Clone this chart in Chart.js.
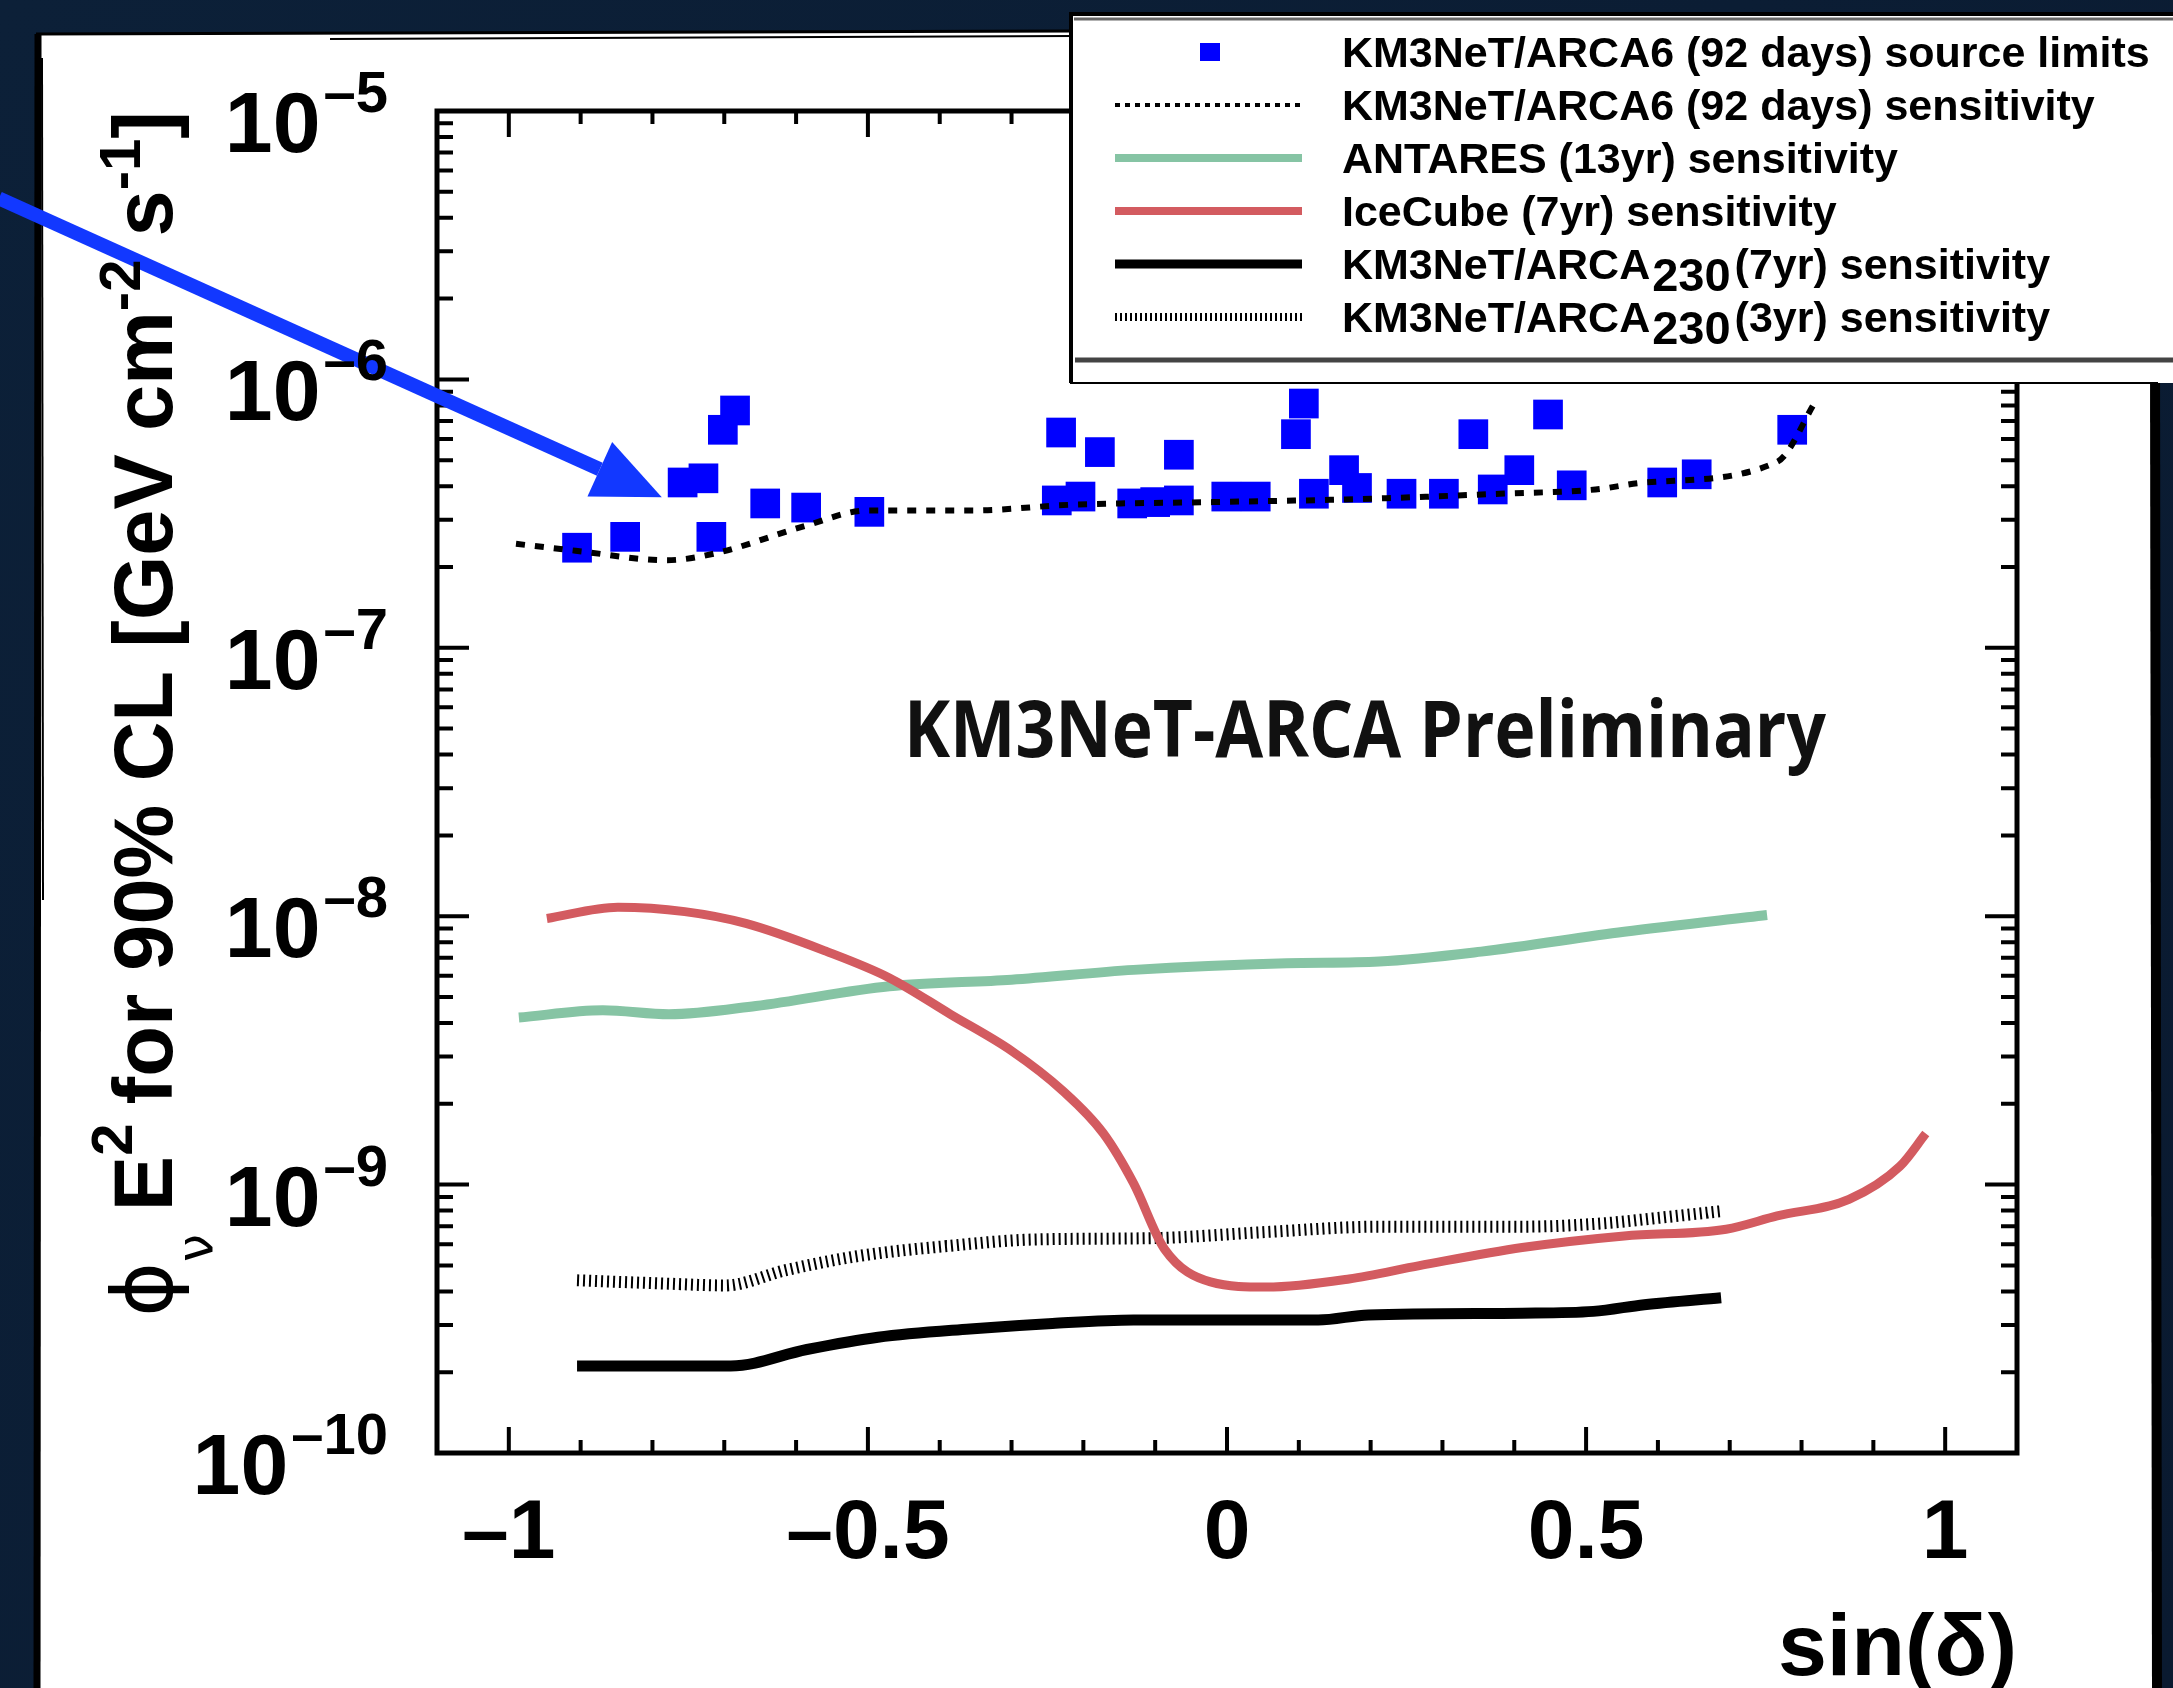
<!DOCTYPE html>
<html>
<head>
<meta charset="utf-8">
<title>KM3NeT/ARCA point source limits</title>
<script src="https://cdn.jsdelivr.net/npm/chart.js@4.4.1/dist/chart.umd.min.js"></script>
<style>
  html, body { margin: 0; padding: 0; background: #0b1c33; overflow: hidden; }
  canvas { display: block; }
</style>
</head>
<body>
<canvas id="limitsChart" width="2173" height="1688"></canvas>
<script>
// axis ticks
const xTicks = [-1, -0.5, 0, 0.5, 1];
const yDecades = [-10, -9, -8, -7, -6, -5];

// KM3NeT/ARCA6 (92 days) source limits
const srcSinDec = [-0.905, -0.838, -0.758, -0.729, -0.718, -0.702, -0.685, -0.643, -0.586, -0.498,
                   -0.231, -0.237, -0.204, -0.177, -0.132, -0.100, -0.067, -0.067, -0.001, 0.040,
                   0.096, 0.107, 0.121, 0.163, 0.181, 0.243, 0.302, 0.343, 0.370, 0.407,
                   0.447, 0.480, 0.606, 0.654, 0.787];
const srcLimit = [2.36e-7, 2.59e-7, 4.13e-7, 4.28e-7, 2.59e-7, 6.49e-7, 7.66e-7, 3.45e-7, 3.33e-7, 3.21e-7,
                  6.34e-7, 3.54e-7, 3.66e-7, 5.36e-7, 3.45e-7, 3.49e-7, 5.24e-7, 3.54e-7, 3.66e-7, 3.66e-7,
                  6.25e-7, 8.13e-7, 3.75e-7, 4.59e-7, 3.94e-7, 3.75e-7, 3.75e-7, 6.25e-7, 3.89e-7, 4.59e-7,
                  7.40e-7, 4.03e-7, 4.13e-7, 4.43e-7, 6.49e-7];

// KM3NeT/ARCA6 (92 days) sensitivity
const arca6SinDec = [-0.99, -0.907, -0.780, -0.712, -0.592, -0.500, -0.353, -0.219, -0.020, 0.181, 0.380, 0.513, 0.581, 0.766, 0.820];
const arca6Sens = [2.44e-7, 2.30e-7, 2.12e-7, 2.25e-7, 2.82e-7, 3.25e-7, 3.25e-7, 3.41e-7, 3.49e-7, 3.58e-7, 3.75e-7, 3.89e-7, 4.13e-7, 4.93e-7, 8.32e-7];

// ANTARES (13yr) sensitivity
const antaresSinDec = [-0.986, -0.869, -0.777, -0.656, -0.470, -0.300, -0.130, 0.083, 0.212, 0.354, 0.553, 0.752];
const antaresSens = [4.19e-9, 4.46e-9, 4.31e-9, 4.63e-9, 5.48e-9, 5.80e-9, 6.31e-9, 6.68e-9, 6.78e-9, 7.38e-9, 8.75e-9, 1.01e-8];

// IceCube (7yr) sensitivity
const icecubeSinDec = [-0.947, -0.848, -0.755, -0.670, -0.557, -0.470, -0.385, -0.300, -0.229, -0.172, -0.130, -0.087,
                       -0.023, 0.055, 0.170, 0.268, 0.411, 0.553, 0.695, 0.766, 0.866, 0.937, 0.973];
const icecubeSens = [9.8e-9, 1.08e-8, 1.04e-8, 9.4e-9, 7.38e-9, 5.89e-9, 4.31e-9, 3.15e-9, 2.24e-9, 1.55e-9, 1.01e-9, 5.75e-10,
                     4.34e-10, 4.15e-10, 4.45e-10, 4.99e-10, 5.83e-10, 6.44e-10, 6.82e-10, 7.64e-10, 8.81e-10, 1.17e-9, 1.55e-9];

// KM3NeT/ARCA230 (7yr) sensitivity
const arca7SinDec = [-0.905, -0.691, -0.585, -0.486, -0.358, -0.243, -0.130, 0.127, 0.197, 0.411, 0.510, 0.581, 0.688];
const arca7Sens = [2.11e-10, 2.11e-10, 2.43e-10, 2.70e-10, 2.90e-10, 3.04e-10, 3.13e-10, 3.13e-10, 3.27e-10, 3.32e-10, 3.37e-10, 3.57e-10, 3.79e-10];

// KM3NeT/ARCA230 (3yr) sensitivity
const arca3SinDec = [-0.905, -0.784, -0.699, -0.613, -0.513, -0.385, -0.272, -0.101, 0.055, 0.212, 0.411, 0.526, 0.597, 0.688];
const arca3Sens = [4.40e-10, 4.28e-10, 4.21e-10, 4.81e-10, 5.42e-10, 5.92e-10, 6.24e-10, 6.32e-10, 6.66e-10, 6.97e-10, 6.97e-10, 7.18e-10, 7.50e-10, 7.96e-10];

// annotations, in data coordinates
const arrowFrom = [-1.71, 4.73e-6];
const arrowTo = [-0.787, 3.64e-7];
const prelimAt = [0.192, 3.83e-8];

const ink = '#000';
const green = '#86c4a4';
const red = '#d35b60';
const blue = '#0000ff';
const helv = "'Liberation Sans', Arial, sans-serif";

const pts = (xs, ys) => xs.map((x, i) => ({ x, y: ys[i] }));

function lineSet(label, xs, ys, color, width, dash, order) {
    return {
        label, data: pts(xs, ys), showLine: true, borderColor: color, backgroundColor: color,
        borderWidth: width, borderDash: dash, pointRadius: 0, order,
        tension: 0.3, cubicInterpolationMode: 'monotone', borderCapStyle: 'butt'
    };
}

// white paper and dark slide background
const paper = {
    id: 'paper',
    beforeDraw(chart) {
        const { ctx, width, height } = chart;
        ctx.save();
        const g = ctx.createLinearGradient(0, 0, width, height);
        g.addColorStop(0, '#0c2038');
        g.addColorStop(1, '#0a1a30');
        ctx.fillStyle = g;
        ctx.fillRect(0, 0, width, height);
        ctx.fillStyle = '#fff';
        ctx.beginPath();
        ctx.moveTo(36, 34); ctx.lineTo(1075, 30); ctx.lineTo(2156, 30);
        ctx.lineTo(2156, height); ctx.lineTo(36, height); ctx.closePath();
        ctx.fill();
        ctx.strokeStyle = ink;
        ctx.lineWidth = 3;
        ctx.beginPath(); ctx.moveTo(36, 34); ctx.lineTo(1075, 31); ctx.stroke();
        ctx.lineWidth = 2;
        ctx.beginPath(); ctx.moveTo(330, 39); ctx.lineTo(1075, 36); ctx.stroke();
        ctx.lineWidth = 7;
        ctx.beginPath(); ctx.moveTo(38, 34); ctx.lineTo(37, height); ctx.stroke();
        ctx.lineWidth = 2;
        ctx.beginPath(); ctx.moveTo(42, 58); ctx.lineTo(43, 900); ctx.stroke();
        ctx.lineWidth = 10;
        ctx.beginPath(); ctx.moveTo(2155, 360); ctx.lineTo(2157, height); ctx.stroke();
        ctx.restore();
    }
};

// ROOT style frame with inner ticks
const frame = {
    id: 'frame',
    beforeDatasetsDraw(chart) {
        const { ctx, chartArea: a, scales: { x, y } } = chart;
        ctx.save();
        ctx.strokeStyle = ink;
        ctx.lineWidth = 4;
        ctx.beginPath();
        for (let i = -10; i <= 10; i++) {
            const px = x.getPixelForValue(i / 10);
            const len = i % 5 === 0 ? 26 : 13;
            ctx.moveTo(px, a.bottom); ctx.lineTo(px, a.bottom - len);
            ctx.moveTo(px, a.top); ctx.lineTo(px, a.top + len);
        }
        yDecades.forEach(k => {
            for (let m = 1; m <= 9; m++) {
                if (k === -5 && m > 1) break;
                const py = y.getPixelForValue(m * Math.pow(10, k));
                const len = m === 1 ? 32 : 16;
                ctx.moveTo(a.left, py); ctx.lineTo(a.left + len, py);
                ctx.moveTo(a.right, py); ctx.lineTo(a.right - len, py);
            }
        });
        ctx.stroke();
        ctx.lineWidth = 5;
        ctx.strokeRect(a.left, a.top, a.right - a.left, a.bottom - a.top);
        ctx.restore();
    }
};

// arrow and the preliminary label
const notes = {
    id: 'notes',
    afterDatasetsDraw(chart) {
        const { ctx, scales: { x, y } } = chart;
        const x0 = x.getPixelForValue(arrowFrom[0]), y0 = y.getPixelForValue(arrowFrom[1]);
        const x1 = x.getPixelForValue(arrowTo[0]), y1 = y.getPixelForValue(arrowTo[1]);
        const ang = Math.atan2(y1 - y0, x1 - x0);
        const headLen = 68, headHalf = 30;
        const bx = x1 - headLen * Math.cos(ang), by = y1 - headLen * Math.sin(ang);
        ctx.save();
        ctx.strokeStyle = '#1238ff';
        ctx.fillStyle = '#1238ff';
        ctx.lineWidth = 14;
        ctx.beginPath(); ctx.moveTo(x0, y0); ctx.lineTo(bx, by); ctx.stroke();
        ctx.beginPath();
        ctx.moveTo(x1, y1);
        ctx.lineTo(bx + headHalf * Math.sin(ang), by - headHalf * Math.cos(ang));
        ctx.lineTo(bx - headHalf * Math.sin(ang), by + headHalf * Math.cos(ang));
        ctx.closePath(); ctx.fill();

        ctx.fillStyle = '#111';
        ctx.font = "bold 78px 'Open Sans', sans-serif";
        ctx.textAlign = 'center';
        ctx.textBaseline = 'alphabetic';
        ctx.fillText('KM3NeT-ARCA Preliminary', x.getPixelForValue(prelimAt[0]), y.getPixelForValue(prelimAt[1]) - 3, 922);
        ctx.restore();
    }
};

function drawParts(ctx, parts, x0, y0) {
    let cx = x0;
    parts.forEach(p => {
        ctx.font = p.font;
        ctx.fillText(p.t, cx, y0 + (p.dy || 0));
        cx += ctx.measureText(p.t).width + (p.gap || 0);
    });
}
function partsWidth(ctx, parts) {
    let w = 0;
    parts.forEach(p => { ctx.font = p.font; w += ctx.measureText(p.t).width + (p.gap || 0); });
    return w;
}

// y tick labels 10^k and the rotated axis title
const yAxisText = {
    id: 'yAxisText',
    afterDraw(chart) {
        const { ctx, chartArea: a, scales: { y } } = chart;
        const big = 'bold 86px ' + helv, sup = 'bold 58px ' + helv;
        ctx.save();
        ctx.fillStyle = ink;
        ctx.textAlign = 'left';
        ctx.textBaseline = 'alphabetic';
        yDecades.forEach(k => {
            const py = y.getPixelForValue(Math.pow(10, k));
            const s = '\u2013' + Math.abs(k);
            ctx.font = sup;
            const ws = ctx.measureText(s).width;
            ctx.font = big;
            const wb = ctx.measureText('10').width;
            const sx = a.left - 49 - ws;
            ctx.fillText('10', sx - 3 - wb, py + 41);
            ctx.font = sup;
            ctx.fillText(s, sx, py + 1);
        });

        const F = 'bold 83px ' + helv, S = 'bold 58px ' + helv;
        const title = [
            { t: '\u03d5', font: "83px 'DejaVu Sans'" },
            { t: '\u03bd', font: "50px 'DejaVu Sans'", dy: 40 },
            { t: ' E', font: F },
            { t: '2', font: S, dy: -40, gap: -4 },
            { t: ' for 90% CL [GeV cm', font: F },
            { t: '-2', font: S, dy: -32 },
            { t: ' s', font: F },
            { t: '-1', font: S, dy: -32 },
            { t: ']', font: F }
        ];
        const w = partsWidth(ctx, title);
        ctx.translate(172, (a.top + 1317) / 2);
        ctx.rotate(-Math.PI / 2);
        drawParts(ctx, title, -w / 2, 0);
        ctx.restore();
    }
};

// legend box pasted over the top right corner
const legendBox = {
    id: 'legendBox',
    afterDraw(chart) {
        const { ctx, width } = chart;
        const sets = chart.data.datasets;
        ctx.save();
        ctx.fillStyle = '#fff';
        ctx.fillRect(1070, 12, width - 1070, 371);
        ctx.strokeStyle = ink;
        ctx.lineWidth = 4;
        ctx.beginPath(); ctx.moveTo(1071, 12); ctx.lineTo(1071, 383); ctx.stroke();
        ctx.beginPath(); ctx.moveTo(1070, 14); ctx.lineTo(width, 14); ctx.stroke();
        ctx.strokeStyle = '#666';
        ctx.lineWidth = 3;
        ctx.beginPath(); ctx.moveTo(1074, 19); ctx.lineTo(width, 19); ctx.stroke();
        ctx.strokeStyle = '#444';
        ctx.lineWidth = 5;
        ctx.beginPath(); ctx.moveTo(1075, 360); ctx.lineTo(width, 360); ctx.stroke();
        ctx.strokeStyle = ink;
        ctx.lineWidth = 2;
        ctx.beginPath(); ctx.moveTo(1070, 383); ctx.lineTo(2158, 383); ctx.stroke();

        const rows = [52, 105, 158, 211, 264, 317];
        const sampleDash = [null, [5, 5], [], [], [], [2, 3]];
        const sampleWidth = [0, 4, 8, 8, 9, 8];
        const F = 'bold 43px ' + helv, SUB = 'bold 47px ' + helv;
        ctx.textBaseline = 'alphabetic';
        ctx.textAlign = 'left';
        sets.forEach((ds, i) => {
            const ry = rows[i];
            if (!ds.showLine) {
                ctx.fillStyle = ds.pointBackgroundColor;
                ctx.fillRect(1200, ry - 9, 20, 18);
            } else {
                ctx.strokeStyle = ds.borderColor;
                ctx.lineWidth = sampleWidth[i];
                ctx.setLineDash(sampleDash[i]);
                ctx.beginPath(); ctx.moveTo(1115, ry); ctx.lineTo(1302, ry); ctx.stroke();
                ctx.setLineDash([]);
            }
            ctx.fillStyle = ink;
            const m = ds.label.match(/^(.*ARCA)(230)(.*)$/);
            if (m) {
                drawParts(ctx, [
                    { t: m[1], font: F, gap: 2 },
                    { t: m[2], font: SUB, dy: 12, gap: 4 },
                    { t: m[3].trim(), font: F }
                ], 1342, ry + 15);
            } else {
                ctx.font = F;
                ctx.fillText(ds.label, 1342, ry + 15);
            }
        });
        ctx.restore();
    }
};

const chart = new Chart(document.getElementById('limitsChart'), {
    type: 'scatter',
    data: {
        datasets: [
            {
                label: 'KM3NeT/ARCA6 (92 days) source limits',
                data: pts(srcSinDec, srcLimit),
                pointStyle: 'rect', pointRadius: 21, pointBorderWidth: 0,
                pointBackgroundColor: blue, backgroundColor: blue, borderColor: blue,
                showLine: false, order: 1
            },
            lineSet('KM3NeT/ARCA6 (92 days) sensitivity', arca6SinDec, arca6Sens, ink, 6, [9, 10], 0),
            lineSet('ANTARES (13yr) sensitivity', antaresSinDec, antaresSens, green, 10, [], 5),
            lineSet('IceCube (7yr) sensitivity', icecubeSinDec, icecubeSens, red, 9, [], 2),
            lineSet('KM3NeT/ARCA230 (7yr) sensitivity', arca7SinDec, arca7Sens, ink, 11, [], 3),
            lineSet('KM3NeT/ARCA230 (3yr) sensitivity', arca3SinDec, arca3Sens, ink, 12, [2, 4], 4)
        ]
    },
    options: {
        responsive: false,
        animation: false,
        devicePixelRatio: 1,
        layout: { padding: { left: 437, top: 111, right: 156, bottom: 0 } },
        plugins: { legend: { display: false }, tooltip: { enabled: false } },
        scales: {
            x: {
                type: 'linear',
                min: -1.1, max: 1.1,
                afterBuildTicks: axis => { axis.ticks = xTicks.map(v => ({ value: v })); },
                afterFit: axis => { axis.height = 235; },
                grid: { display: false, drawTicks: false },
                border: { display: false },
                ticks: {
                    color: ink, padding: 31,
                    font: { family: helv, size: 84, weight: 'bold' },
                    maxRotation: 0,
                    callback: v => (v < 0 ? '\u2013' + Math.abs(v) : String(v))
                },
                title: {
                    display: true, text: 'sin(\u03b4)', align: 'end', color: ink,
                    font: { family: helv, size: 88, weight: 'bold' },
                    padding: { top: 0, bottom: -16 }
                }
            },
            y: {
                type: 'logarithmic',
                min: 1e-10, max: 1e-5,
                display: false
            }
        }
    },
    plugins: [paper, frame, notes, yAxisText, legendBox]
});
</script>
</body>
</html>
